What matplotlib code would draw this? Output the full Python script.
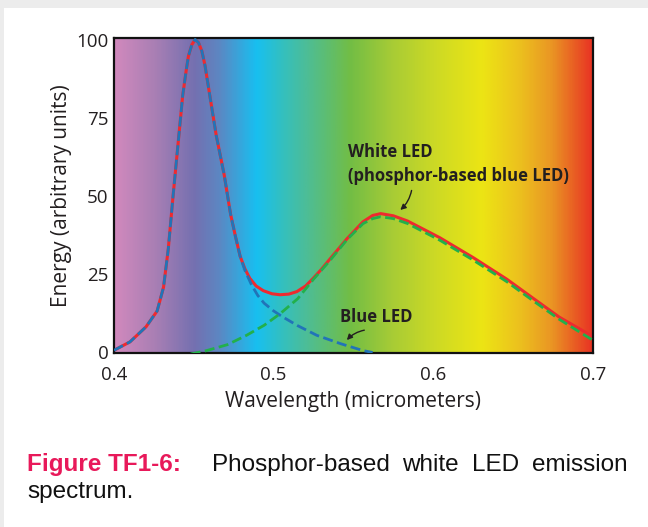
import numpy as np
import matplotlib
matplotlib.use("Agg")
import matplotlib.pyplot as plt
from matplotlib.colors import LinearSegmentedColormap
from matplotlib.patches import Rectangle

# Daten
blue_wl = [0.400, 0.410, 0.420, 0.427, 0.431, 0.434, 0.437, 0.440, 0.443, 0.445,
           0.4466, 0.4487, 0.4508, 0.4529, 0.455, 0.457, 0.460, 0.464, 0.469, 0.473,
           0.476, 0.479, 0.482, 0.486, 0.490, 0.494, 0.500, 0.505, 0.515, 0.527,
           0.542, 0.556, 0.562]
blue_led = [0.4, 3.1, 7.9, 13.0, 20.6, 33.0, 50.0, 66.0, 82.0, 89.4,
            94.7, 98.3, 100.0, 99.0, 96.3, 91.6, 82.0, 69.3, 56.6, 44.0,
            37.0, 30.5, 26.0, 21.5, 18.0, 15.5, 13.0, 11.3, 8.3, 5.2,
            2.5, 0.3, -0.3]

phos_wl = [0.448, 0.458, 0.471, 0.483, 0.494, 0.504, 0.515, 0.525, 0.535, 0.546,
           0.556, 0.562, 0.567, 0.575, 0.584, 0.604, 0.625, 0.646, 0.663, 0.679, 0.700]
phosphor = [-0.8, 0.3, 2.2, 5.2, 8.4, 12.1, 16.9, 23.2, 29.0, 35.9,
            41.0, 42.6, 43.2, 42.6, 41.0, 35.7, 29.3, 22.4, 16.1, 10.3, 3.6]

white_wl = [0.400, 0.410, 0.420, 0.427, 0.431, 0.434, 0.437, 0.440, 0.443, 0.445,
            0.4466, 0.4487, 0.4508, 0.4529, 0.455, 0.457, 0.460, 0.464, 0.469, 0.473,
            0.476, 0.479, 0.482, 0.485, 0.489, 0.4935, 0.499, 0.504, 0.5095, 0.5145,
            0.520, 0.525, 0.530, 0.535, 0.546, 0.556, 0.562, 0.567, 0.575, 0.584,
            0.604, 0.625, 0.646, 0.663, 0.679, 0.700]
white_led = [0.4, 3.1, 7.9, 13.0, 20.6, 33.0, 50.0, 66.0, 82.0, 89.4,
             94.7, 98.3, 100.0, 99.0, 96.3, 91.6, 82.0, 69.3, 56.6, 44.0,
             37.0, 30.5, 26.5, 23.5, 21.0, 19.5, 18.5, 18.2, 18.4, 19.2,
             21.0, 23.6, 26.4, 29.5, 36.2, 41.6, 43.6, 44.2, 43.5, 41.8,
             36.5, 30.1, 23.2, 16.9, 11.0, 4.8]

x_ticks = [0.4, 0.5, 0.6, 0.7]
x_ticklabels = ["0.4", "0.5", "0.6", "0.7"]
y_ticks = [0, 25, 50, 75, 100]

# Spektrum-Hintergrund
spec_pos = [0.400, 0.425, 0.450, 0.465, 0.489, 0.505, 0.520, 0.548, 0.575,
            0.600, 0.631, 0.655, 0.675, 0.700]
spec_col = ["#d189bd", "#a97fb4", "#7470b0", "#5d86c2", "#18bff0", "#33c0c0",
            "#4cbd98", "#72bd45", "#a8cc35", "#cbd926", "#ece514", "#ecc01e",
            "#ea9524", "#e83423"]

font = "Open Sans"
ink = "#231f20"

fig = plt.figure(figsize=(6.48, 5.27), dpi=100)
fig.patch.set_facecolor("white")
# hellgrauer Seitenrand
fig.add_artist(Rectangle((0, 0.985), 1, 0.015, transform=fig.transFigure,
                         facecolor="#ececec", edgecolor="none"))
fig.add_artist(Rectangle((0, 0), 0.006, 1, transform=fig.transFigure,
                         facecolor="#ececec", edgecolor="none"))

ax = fig.add_axes([0.176, 0.330, 0.739, 0.598])

stops = [min(1.0, max(0.0, round((p - 0.4) / 0.3, 6))) for p in spec_pos]
cmap = LinearSegmentedColormap.from_list("spec", list(zip(stops, spec_col)))
grad = np.linspace(0, 1, 600).reshape(1, -1)
ax.imshow(grad, cmap=cmap, extent=[0.4, 0.7, -1, 101], aspect="auto",
          interpolation="bilinear", zorder=0)

ax.plot(white_wl, white_led, color="#ee2a2f", lw=2.2, zorder=2,
        solid_capstyle="round", solid_joinstyle="round")
ax.plot(blue_wl, blue_led, color="#2174b8", lw=2.0, zorder=3,
        dashes=(3.6, 1.6))
ax.plot(phos_wl, phosphor, color="#22b04b", lw=2.0, zorder=3,
        dashes=(3.6, 1.6))

ax.set_xlim(0.4, 0.7)
ax.set_ylim(-0.5, 100.5)
ax.set_xticks(x_ticks)
ax.set_xticklabels(x_ticklabels)
ax.set_yticks(y_ticks)
ax.tick_params(length=0, labelsize=13.5, colors=ink)
ax.tick_params(axis="x", pad=9)
ax.tick_params(axis="y", pad=4)
for lab in ax.get_xticklabels() + ax.get_yticklabels():
    lab.set_family(font)
for s in ax.spines.values():
    s.set_linewidth(1.6)
    s.set_color("#111111")

ax.set_xlabel("Wavelength (micrometers)", family=font, fontsize=15,
              color=ink, labelpad=5)
ax.set_ylabel("Energy (arbitrary units)", family=font, fontsize=15,
              color=ink, labelpad=3)

# Beschriftungen im Diagramm
ax.text(0.5466, 66.8, "White LED\n(phosphor-based blue LED)", family=font,
        fontsize=12, fontweight="bold", color=ink, va="top", ha="left",
        linespacing=1.45, zorder=5)
ax.annotate("", xy=(0.578, 44.8), xytext=(0.5867, 52.5),
            arrowprops=dict(arrowstyle="-|>", color=ink, lw=1.0,
                            mutation_scale=8,
                            connectionstyle="arc3,rad=-0.2"), zorder=5)
ax.text(0.5416, 11.1, "Blue LED", family=font, fontsize=12,
        fontweight="bold", color=ink, va="center", ha="left", zorder=5)
ax.annotate("", xy=(0.5447, 3.0), xytext=(0.5585, 7.0),
            arrowprops=dict(arrowstyle="-|>", color=ink, lw=1.0,
                            mutation_scale=8,
                            connectionstyle="arc3,rad=0.2"), zorder=5)

# Bildunterschrift (Blocksatz)
cap = "Liberation Sans"
cap_size = 17.5
y1 = 1 - 465 / 527
fig.text(27 / 648, y1, "Figure TF1-6:", family=cap, fontsize=cap_size,
         fontweight="bold", color="#e8195a", va="center", ha="left")
fig.text(212 / 648, y1, "Phosphor-based", family=cap, fontsize=cap_size,
         color="#111111", va="center", ha="left")
fig.text(402 / 648, y1, "white", family=cap, fontsize=cap_size,
         color="#111111", va="center", ha="left")
fig.text(472 / 648, y1, "LED", family=cap, fontsize=cap_size,
         color="#111111", va="center", ha="left")
fig.text(628 / 648, y1, "emission", family=cap, fontsize=cap_size,
         color="#111111", va="center", ha="right")
fig.text(27 / 648, 1 - 492 / 527, "spectrum.", family=cap, fontsize=cap_size,
         color="#111111", va="center", ha="left")

fig.savefig("out.png", dpi=100)
